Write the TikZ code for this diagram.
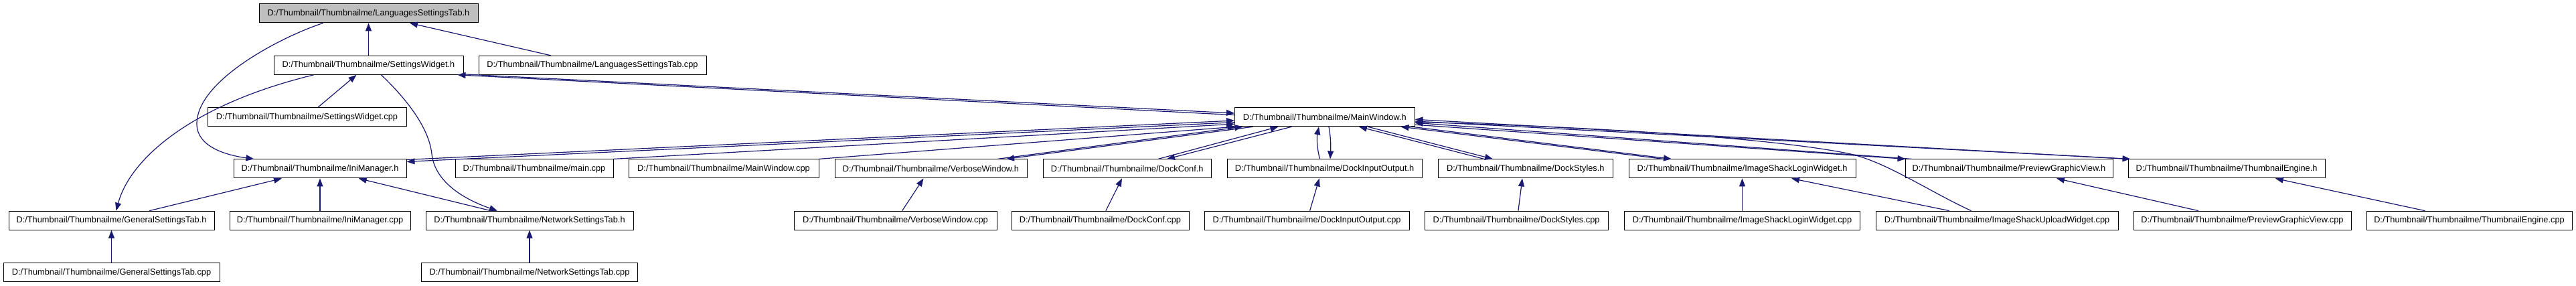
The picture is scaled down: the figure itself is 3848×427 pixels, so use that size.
\documentclass[tikz,border=0pt]{standalone}
\usepackage{fontspec}
\setmainfont{Liberation Sans}
\usetikzlibrary{arrows.meta,calc}
\definecolor{edgecol}{RGB}{25,25,112}
\definecolor{rootfill}{RGB}{191,191,191}
\begin{document}
\begin{tikzpicture}[x=1pt,y=-1pt,
  box/.style={draw=black,line width=1pt,fill=white,rectangle,inner sep=0pt,minimum height=28pt,font=\fontsize{12.8}{14}\selectfont},
  root/.style={box,fill=rootfill},
  dep/.style={draw=edgecol,line width=1.2pt,-{Triangle[length=12pt,width=9pt]}}]
\useasboundingbox[fill=white] (0,0) rectangle (3848,427);
% row 0
\node[root,minimum width=327pt] (LSTh) at (550.5,19.9) {D:/Thumbnail/Thumbnailme/LanguagesSettingsTab.h};
% row 1
\node[box,minimum width=283pt] (SWh) at (550.5,97.3) {D:/Thumbnail/Thumbnailme/SettingsWidget.h};
\node[box,minimum width=340pt] (LSTcpp) at (885,97.3) {D:/Thumbnail/Thumbnailme/LanguagesSettingsTab.cpp};
% row 2
\node[box,minimum width=297pt] (SWcpp) at (458.5,174.7) {D:/Thumbnail/Thumbnailme/SettingsWidget.cpp};
\node[box,minimum width=268.5pt] (MWh) at (1978.75,174.7) {D:/Thumbnail/Thumbnailme/MainWindow.h};
% row 3
\node[box,minimum width=258pt] (Inih) at (478,251.9) {D:/Thumbnail/Thumbnailme/IniManager.h};
\node[box,minimum width=236pt] (maincpp) at (798,251.9) {D:/Thumbnail/Thumbnailme/main.cpp};
\node[box,minimum width=284pt] (MWcpp) at (1081,251.9) {D:/Thumbnail/Thumbnailme/MainWindow.cpp};
\node[box,minimum width=287pt] (VWh) at (1390.5,251.9) {D:/Thumbnail/Thumbnailme/VerboseWindow.h};
\node[box,minimum width=250.7pt] (DCh) at (1683.7,251.9) {D:/Thumbnail/Thumbnailme/DockConf.h};
\node[box,minimum width=291pt] (DIOh) at (1978.5,251.9) {D:/Thumbnail/Thumbnailme/DockInputOutput.h};
\node[box,minimum width=261pt] (DSh) at (2278.8,251.9) {D:/Thumbnail/Thumbnailme/DockStyles.h};
\node[box,minimum width=339pt] (ISLWh) at (2602.5,251.9) {D:/Thumbnail/Thumbnailme/ImageShackLoginWidget.h};
\node[box,minimum width=310pt] (PGVh) at (3001,251.9) {D:/Thumbnail/Thumbnailme/PreviewGraphicView.h};
\node[box,minimum width=294pt] (TEh) at (3326,251.9) {D:/Thumbnail/Thumbnailme/ThumbnailEngine.h};
% row 4
\node[box,minimum width=307pt] (GSTh) at (166.5,329.2) {D:/Thumbnail/Thumbnailme/GeneralSettingsTab.h};
\node[box,minimum width=270pt] (Inicpp) at (478,329.2) {D:/Thumbnail/Thumbnailme/IniManager.cpp};
\node[box,minimum width=310pt] (NSTh) at (791,329.2) {D:/Thumbnail/Thumbnailme/NetworkSettingsTab.h};
\node[box,minimum width=303pt] (VWcpp) at (1337.5,329.2) {D:/Thumbnail/Thumbnailme/VerboseWindow.cpp};
\node[box,minimum width=265pt] (DCcpp) at (1643.5,329.2) {D:/Thumbnail/Thumbnailme/DockConf.cpp};
\node[box,minimum width=306pt] (DIOcpp) at (1952,329.2) {D:/Thumbnail/Thumbnailme/DockInputOutput.cpp};
\node[box,minimum width=274pt] (DScpp) at (2265,329.2) {D:/Thumbnail/Thumbnailme/DockStyles.cpp};
\node[box,minimum width=352pt] (ISLWcpp) at (2602.5,329.2) {D:/Thumbnail/Thumbnailme/ImageShackLoginWidget.cpp};
\node[box,minimum width=362pt] (ISUWcpp) at (2983,329.2) {D:/Thumbnail/Thumbnailme/ImageShackUploadWidget.cpp};
\node[box,minimum width=325pt] (PGVcpp) at (3349.5,329.2) {D:/Thumbnail/Thumbnailme/PreviewGraphicView.cpp};
\node[box,minimum width=307pt] (TEcpp) at (3688.5,329.2) {D:/Thumbnail/Thumbnailme/ThumbnailEngine.cpp};
% row 5
\node[box,minimum width=323pt] (GSTcpp) at (166.5,406.7) {D:/Thumbnail/Thumbnailme/GeneralSettingsTab.cpp};
\node[box,minimum width=323pt] (NSTcpp) at (791,406.7) {D:/Thumbnail/Thumbnailme/NetworkSettingsTab.cpp};

% single edges
\draw[dep] (SWh.north) -- (LSTh.south);
\draw[dep] ($(LSTcpp.north)+(-62.3,0)$) -- ($(LSTh.south)+(61.5,0)$);
\draw[dep] ($(LSTh.south)+(-67.7,0)$) .. controls (420,55) and (294,120) .. (294,185) .. controls (294,220) and (340,232) .. ($(Inih.north)+(-98.5,0)$);
\draw[dep] ($(SWh.south)+(-81.7,0)$) .. controls (290,155) and (195,235) .. ($(GSTh.north)+(7,0)$);
\draw[dep] ($(SWcpp.north)+(16.5,0)$) -- ($(SWh.south)+(-18,0)$);
\draw[dep] ($(SWh.south)+(19,0)$) .. controls (620,160) and (642,200) .. (645,230) .. controls (650,275) and (700,300) .. ($(NSTh.north)+(-48,0)$);
\draw[dep] ($(GSTh.north)+(56.5,0)$) -- ($(Inih.south)+(-57,0)$);
\draw[dep] (Inicpp.north) -- (Inih.south);
\draw[dep] ($(NSTh.north)+(-57.6,0)$) -- ($(Inih.south)+(57.7,0)$);
\draw[dep] (GSTcpp.north) -- (GSTh.south);
\draw[dep] (NSTcpp.north) -- (NSTh.south);
\draw[dep] ($(VWcpp.north)+(10.1,0)$) -- ($(VWh.south)+(-11,0)$);
\draw[dep] ($(DCcpp.north)+(8.3,0)$) -- ($(DCh.south)+(-7.7,0)$);
\draw[dep] ($(DIOcpp.north)+(4.6,0)$) -- ($(DIOh.south)+(-7.8,0)$);
\draw[dep] ($(DScpp.north)+(2.9,0)$) -- ($(DSh.south)+(-4.8,0)$);
\draw[dep] (ISLWcpp.north) -- (ISLWh.south);
\draw[dep] ($(ISUWcpp.north)+(-71,0)$) -- ($(ISLWh.south)+(73.5,0)$);
\draw[dep] ($(PGVcpp.north)+(-65.5,0)$) -- ($(PGVh.south)+(71,0)$);
\draw[dep] ($(TEcpp.north)+(-66,0)$) -- ($(TEh.south)+(72.8,0)$);

% edges with MainWindow.h
\draw[dep] ($(SWh.south east)+(0,-1)$) -- ($(MWh.west)+(0,-5.7)$);
\draw[dep] ($(MWh.west)+(0,-3)$) -- ($(SWh.south east)+(-9,0)$);
\draw[dep] ($(Inih.north east)+(0,1)$) -- ($(MWh.west)+(0,5.3)$);
\draw[dep] ($(MWh.west)+(0,8)$) -- ($(Inih.north east)+(0,4)$);
\draw[dep] (maincpp.north east) -- ($(MWh.west)+(0,10.5)$);
\draw[dep] (MWcpp.north east) -- ($(MWh.south west)+(2,0)$);
\draw[dep] ($(VWh.north)+(99.5,0)$) -- ($(MWh.south west)+(12.5,0)$);
\draw[dep] ($(MWh.south west)+(28,0)$) -- ($(VWh.north)+(112.5,0)$);
\draw[dep] ($(DCh.north)+(46.3,0)$) -- ($(MWh.south west)+(65.5,0)$);
\draw[dep] ($(MWh.south west)+(85.5,0)$) -- ($(DCh.north)+(59.3,0)$);
\draw[dep] ($(DIOh.north)+(-6.8,0)$) .. controls (1967,222) and (1967,205) .. ($(MWh.south)+(-8.75,0)$);
\draw[dep] ($(MWh.south)+(6.25,0)$) .. controls (1988,205) and (1988,220) .. ($(DIOh.north)+(8.5,0)$);
\draw[dep] ($(DSh.north)+(-61.8,0)$) -- ($(MWh.south)+(51.25,0)$);
\draw[dep] ($(MWh.south)+(64.25,0)$) -- ($(DSh.north)+(-48.8,0)$);
\draw[dep] ($(ISLWh.north)+(-117.5,0)$) -- ($(MWh.south east)+(-21,0)$);
\draw[dep] ($(MWh.south east)+(-5,0)$) -- ($(ISLWh.north)+(-105.5,0)$);
\draw[dep] ($(PGVh.north west)+(10,0)$) -- ($(MWh.east)+(0,8.6)$);
\draw[dep] ($(MWh.east)+(0,11.5)$) -- ($(PGVh.north west)+(1,0)$);
\draw[dep] (TEh.north west) -- ($(MWh.east)+(0,3.6)$);
\draw[dep] ($(MWh.east)+(0,6.3)$) -- ($(TEh.north west)+(4,0)$);
\draw[dep] ($(ISUWcpp.north)+(-38.4,0)$) .. controls (2880,285) and (2815,240) .. (2760,229) .. controls (2650,207) and (2400,190) .. ($(MWh.east)+(0,7.5)$);
\end{tikzpicture}
\end{document}
